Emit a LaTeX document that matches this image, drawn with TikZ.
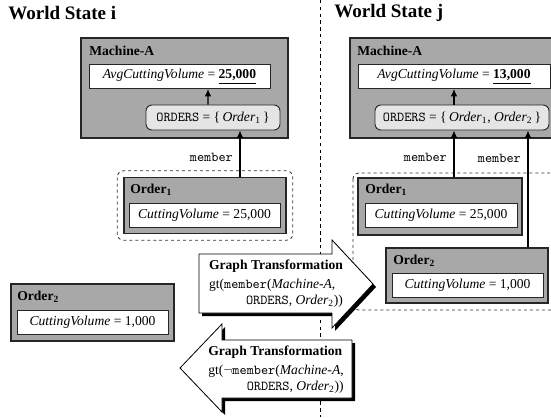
\documentclass[tikz,border=0pt]{standalone}
\usepackage{fontspec}
\setmainfont{Liberation Serif}
\usetikzlibrary{arrows,arrows.meta,positioning,fit,shadows}

\newlength\pu
\setlength\pu{0.735pt}
\definecolor{boxgray}{gray}{0.66}
\definecolor{setgray}{gray}{0.9}

\newcommand{\ord}[1]{\textit{Order}\textsubscript{#1}}
\newcommand{\bord}[1]{\textbf{Order\textsubscript{#1}}}

\begin{document}
\begin{tikzpicture}[x=\pu,y=-\pu]

\tikzstyle{objbox}=[draw=black!85,fill=boxgray,line width=1pt,inner sep=0pt]
\tikzstyle{attrbox}=[draw=black!85,fill=white,line width=0.7pt,inner sep=0pt,minimum height=24\pu]
\tikzstyle{setbox}=[draw=black!85,fill=setgray,line width=0.7pt,rounded corners=6\pu,inner sep=0pt,minimum height=25\pu]
\tikzstyle{objname}=[font=\bfseries,anchor=west,inner sep=0pt]
\tikzstyle{statename}=[font=\fontsize{14}{16}\selectfont\bfseries,anchor=west,inner sep=0pt]
\tikzstyle{memberedge}=[-{Latex[length=5.5pt,width=5pt]},line width=0.9pt]
\tikzstyle{memberlabel}=[font=\ttfamily,left,xshift=-1.5pt]
\tikzstyle{scopebound}=[draw=black!80,dash pattern=on 2.2pt off 2.2pt,rounded corners=6\pu,line width=0.6pt]
\tikzstyle{divider}=[draw=black,dash pattern=on 2.5pt off 2.5pt,line width=0.6pt]
\tikzstyle{gtarrow}=[draw=black,fill=white,line width=0.6pt,drop shadow={shadow xshift=3\pu,shadow yshift=-3\pu,fill=black,opacity=1}]
\tikzstyle{gtlabel}=[inner sep=0pt]

\useasboundingbox (0,0) rectangle (551,417);

\draw[divider] (320,0) -- (320,417);

% world state i
\node[statename] (ws_i) at (8,13) {World State i};

\node[objbox,minimum width=207\pu,minimum height=100\pu] (mA_i) at (184.5,88) {};
\node[objname] (mA_i_name) at (89,51) {Machine-A};
\node[attrbox,minimum width=181\pu] (avg_i) at (179.5,76.5)
  {\textit{AvgCuttingVolume} = \underline{\textbf{25,000}}};
\node[setbox,minimum width=134\pu] (orders_i) at (213,117.5)
  {\texttt{ORDERS} = \{\,\ord{1}\,\}};
\draw[memberedge] ([xshift=-5\pu]orders_i.north) -- ([xshift=28.5\pu]avg_i.south);

\node[objbox,minimum width=162\pu,minimum height=56\pu] (o1_i) at (205,205.5) {};
\node[objname] (o1_i_name) at (130,190) {\bord{1}};
\node[attrbox,minimum width=151\pu] (cv1_i) at (204.5,215) {\textit{CuttingVolume} = 25,000};
\node[scopebound,fit=(o1_i),inner sep=6\pu] (sel_i) {};
\draw[memberedge] ([xshift=35\pu]o1_i.north) -- node[memberlabel,pos=0.42] {member} ([xshift=27\pu]orders_i.south);

\node[objbox,minimum width=163\pu,minimum height=57\pu] (o2_i) at (92.5,312.5) {};
\node[objname] (o2_i_name) at (17,297) {\bord{2}};
\node[attrbox,minimum width=151\pu] (cv2_i) at (92.5,322) {\textit{CuttingVolume} = 1,000};

% world state j
\node[statename] (ws_j) at (334,13) {World State j};

\draw[scopebound] (353,173) rectangle (570,310);

\node[objbox,minimum width=203\pu,minimum height=100\pu] (mA_j) at (451.5,88) {};
\node[objname] (mA_j_name) at (357,51) {Machine-A};
\node[attrbox,minimum width=192\pu] (avg_j) at (454,76.5)
  {\textit{AvgCuttingVolume} = \underline{\textbf{13,000}}};
\node[setbox,minimum width=174\pu] (orders_j) at (462,117.5)
  {\texttt{ORDERS} = \{\,\ord{1}, \ord{2}\,\}};
\draw[memberedge] ([xshift=-8\pu]orders_j.north) -- (avg_j.south);

\node[objbox,minimum width=164\pu,minimum height=57\pu] (o1_j) at (440,206.5) {};
\node[objname] (o1_j_name) at (365,190) {\bord{1}};
\node[attrbox,minimum width=152\pu] (cv1_j) at (441,215.5) {\textit{CuttingVolume} = 25,000};

\node[objbox,minimum width=162\pu,minimum height=55\pu] (o2_j) at (467,275.5) {};
\node[objname] (o2_j_name) at (393,261) {\bord{2}};
\node[attrbox,minimum width=151\pu] (cv2_j) at (467.5,285.5) {\textit{CuttingVolume} = 1,000};

\draw[memberedge] ([xshift=14\pu]o1_j.north) -- node[memberlabel,pos=0.42] {member} ([xshift=-8\pu]orders_j.south);
\draw[memberedge] ([xshift=61\pu]o2_j.north) -- node[memberlabel,pos=0.76] {member} ([xshift=66\pu]orders_j.south);

% graph transformations
\draw[gtarrow] (199,254) -- (332,254) -- (332,240) -- (373,284) -- (332,328) -- (332,313) -- (199,313) -- cycle;
\node[gtlabel] (gtfwd) at (276,284)
  {\begin{tabular}{@{}l@{}}
   \textbf{Graph Transformation}\\[2pt]
   gt(\texttt{member}(\textit{Machine-A},\\
   \multicolumn{1}{@{}r@{}}{\texttt{ORDERS}, \ord{2}))}
   \end{tabular}};

\draw[gtarrow] (352,340) -- (222,340) -- (222,324) -- (180,368) -- (222,412) -- (222,398) -- (352,398) -- cycle;
\node[gtlabel] (gtbwd) at (276,369.5)
  {\begin{tabular}{@{}l@{}}
   \textbf{Graph Transformation}\\[2pt]
   gt($\neg$\texttt{member}(\textit{Machine-A},\\
   \multicolumn{1}{@{}r@{}}{\texttt{ORDERS}, \ord{2}))}
   \end{tabular}};

\end{tikzpicture}
\end{document}
